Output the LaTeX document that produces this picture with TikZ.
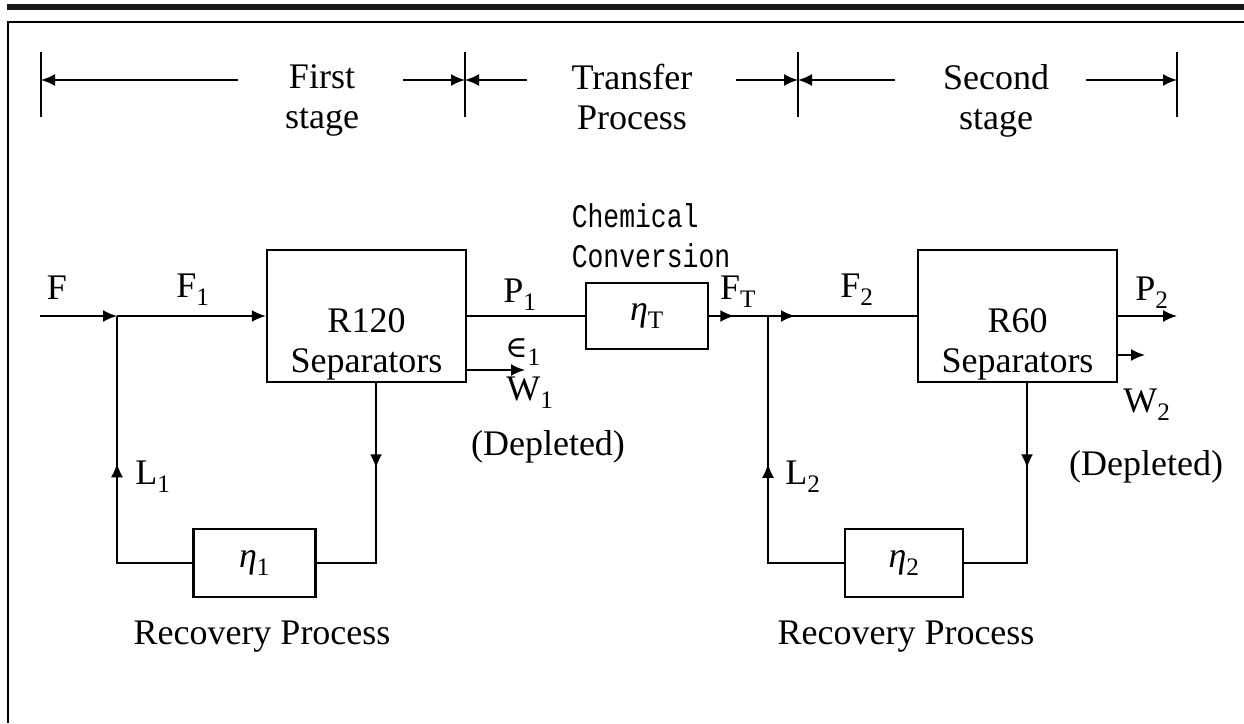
\documentclass[tikz,border=0pt]{standalone}
\usepackage{fontspec}
\setmainfont{Liberation Serif}
\newfontfamily\chemfont[FakeStretch=0.8]{Liberation Mono}
\newfontfamily\symfont{DejaVu Serif}
\usepackage{tikz}
\usetikzlibrary{arrows.meta,decorations.markings}

\begin{document}
\begin{tikzpicture}[
    x=1pt, y=-1pt,
    every node/.style={font=\fontsize{36}{40}\selectfont, inner sep=0pt},
    flow/.style={line width=2pt},
    tip/.style={-{Latex[length=14pt,width=12pt]}},
    midarrow/.style={
        postaction={decorate},
        decoration={markings,
            mark=at position #1 with {\arrow{Latex[length=14pt,width=12pt]}}}
    }
]
\tikzstyle{unit} = [draw, line width=2.5pt, minimum width=199pt, minimum height=132pt]
\tikzstyle{recov} = [draw, line width=2.5pt, minimum width=122pt, minimum height=68pt]
\tikzstyle{tick} = [line width=2pt]
\tikzstyle{stagetext} = [align=center, anchor=north]
\useasboundingbox (0,0) rectangle (1244,723);

% page frame
\fill[black!90] (7,4) rectangle (1244,9.5);
\draw[line width=2.3pt] (8,723) -- (8,22) -- (1244,22);

% stage ruler
\coordinate (t0) at (41,80);
\coordinate (t1) at (465,80);
\coordinate (t2) at (798,80);
\coordinate (t3) at (1177,80);
\foreach \n in {0,...,3}
    \draw[tick] ([yshift=28pt]t\n) -- ([yshift=-37pt]t\n);

\node[stagetext] (stage1) at (322,64) {First\\stage};
\node[stagetext] (transfer) at (632,64) {Transfer\\Process};
\node[stagetext] (stage2) at (996,64) {Second\\stage};

\coordinate (a0) at (238,80);
\coordinate (a1) at (403,80);
\coordinate (a2) at (527,80);
\coordinate (a3) at (736,80);
\coordinate (a4) at (895,80);
\coordinate (a5) at (1086,80);
\draw[flow,tip] (a0) -- (t0);
\draw[flow,tip] (a1) -- (t1);
\draw[flow,tip] (a2) -- (t1);
\draw[flow,tip] (a3) -- (t2);
\draw[flow,tip] (a4) -- (t2);
\draw[flow,tip] (a5) -- (t3);

% separators and conversion units
\node[unit, label={[align=center, yshift=-28pt]center:R120\\Separators}] (R120) at (366.5,316) {};
\node[unit, label={[align=center, yshift=-28pt]center:R60\\Separators}] (R60) at (1017.5,316) {};
\node[draw, line width=2.5pt, minimum width=122pt, minimum height=66pt] (etaT) at (647,316) {{\itshape η}\textsubscript{T}};
\node[recov] (eta1) at (254.5,563) {{\itshape η}\textsubscript{1}};
\node[recov, minimum width=118pt] (eta2) at (904,563) {{\itshape η}\textsubscript{2}};

\node[align=left, font=\chemfont\fontsize{33}{40}\selectfont] (chem) at (651,236) {Chemical\\Conversion};

% stream points
\coordinate (Fin) at (40,316);
\coordinate (j1) at (117,316);
\coordinate (j2) at (768,316);
\coordinate (c1) at (117,563);
\coordinate (c2) at (376,563);
\coordinate (c3) at (768,563);
\coordinate (c4) at (1027,563);
\coordinate (W1out) at (525,370);
\coordinate (P2out) at (1177,316);
\coordinate (W2out) at (1145,355);

% main streams
\draw[flow,tip] (Fin) -- (j1);
\draw[flow,tip] (j1) -- (R120);
\draw[flow] (R120) -- (etaT);
\draw[flow,midarrow=25pt] (etaT.east) -- (j2);
\draw[flow,midarrow=27pt] (j2) -- (R60.west);
\draw[flow,tip] (R120.east |- W1out) -- (W1out);
\draw[flow,tip] (R60.east) -- (P2out);
\draw[flow,tip] (R60.east |- W2out) -- (W2out);

% recovery loops
\draw[flow,midarrow=85pt] (c2 |- R120.south) -- (c2) -- (eta1);
\draw[flow,midarrow=175pt] (eta1) -- (c1) -- (j1);
\draw[flow,midarrow=85pt] (c4 |- R60.south) -- (c4) -- (eta2);
\draw[flow,midarrow=175pt] (eta2) -- (c3) -- (j2);

% stream labels
\node (lblF) at (57,288) {F};
\node (lblF1) at (193,290) {F\textsubscript{1}};
\node (lblP1) at (520,295) {P\textsubscript{1}};
\node (lblE1) at (523,352) {{\symfont\fontsize{30}{30}\selectfont ∈}\textsubscript{1}};
\node (lblW1) at (530,393) {W\textsubscript{1}};
\node (dep1) at (548,447) {(Depleted)};
\node (lblFT) at (738,292) {F\textsubscript{T}};
\node (lblF2) at (857,290) {F\textsubscript{2}};
\node (lblP2) at (1152,293) {P\textsubscript{2}};
\node (lblW2) at (1147,405) {W\textsubscript{2}};
\node (dep2) at (1146,467) {(Depleted)};
\node (lblL1) at (153,477) {L\textsubscript{1}};
\node (lblL2) at (803,477) {L\textsubscript{2}};
\node (rec1) at (262,637) {Recovery Process};
\node (rec2) at (906,637) {Recovery Process};
\end{tikzpicture}
\end{document}
